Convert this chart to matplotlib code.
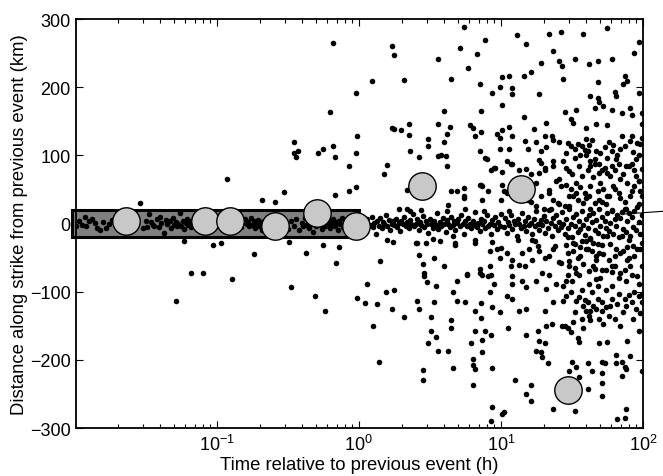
import numpy as np
import matplotlib
matplotlib.use('Agg')
from matplotlib import pyplot as plt
from matplotlib.patches import Rectangle

plt.rcParams['font.family'] = ['Liberation Sans', 'DejaVu Sans']
plt.rcParams['mathtext.default'] = 'regular'

#----------------- values (log10 of hours, km) -----------------#

# events inside the shaded band, t < 1 h
band_early = [(-1.99,-4),(-1.97,3),(-1.95,-2),(-1.93,9),(-1.92,-3),(-1.90,4),(-1.88,6),(-1.86,1),
    (-1.84,-6),(-1.82,-10),(-1.80,2),(-1.78,-7),(-1.76,0),(-1.74,5),(-1.71,-3),(-1.68,4),
    (-1.52,-7),(-1.50,3),(-1.49,-5),(-1.48,14),(-1.46,2),(-1.45,-2),(-1.44,-4),(-1.42,6),
    (-1.41,-5),(-1.40,10),(-1.39,1),(-1.37,-14),(-1.36,5),(-1.35,-1),(-1.33,3),(-1.32,-6),
    (-1.31,8),(-1.30,-2),(-1.29,2),(-1.28,-4),(-1.27,0),(-1.26,15),(-1.25,-3),(-1.24,4),
    (-1.23,-8),(-1.22,1),(-1.21,6),(-1.20,-2),(-1.19,3),(-1.18,-5),(-1.17,0),(-1.16,7),
    (-1.15,-3),(-1.13,2),(-1.11,-1),(-1.10,4),(-1.08,-6),(-0.98,-3),(-0.97,4),(-0.86,-2),
    (-0.84,3),(-0.83,-5),(-0.82,1),(-0.80,6),(-0.79,-1),(-0.78,2),(-0.77,-4),(-0.76,8),
    (-0.75,-2),(-0.74,3),(-0.73,-7),(-0.72,0),(-0.71,5),(-0.70,-3),(-0.69,2),(-0.68,-9),
    (-0.67,4),(-0.66,-1),(-0.50,-8),(-0.48,3),(-0.46,-3),(-0.44,6),(-0.42,-10),(-0.40,1),
    (-0.39,-4),(-0.38,8),(-0.37,-2),(-0.36,3),(-0.35,-6),(-0.34,0),(-0.33,5),(-0.32,-12),
    (-0.31,2),(-0.30,-3),(-0.29,7),(-0.28,-1),(-0.27,4),(-0.26,-8),(-0.25,1),(-0.24,-4),
    (-0.23,10),(-0.22,-2),(-0.21,3),(-0.20,-6),(-0.19,0),(-0.18,6),(-0.17,-3),(-0.16,2),
    (-0.15,-10),(-0.14,4),(-0.13,-1),(-0.12,8),(-0.11,-5),(-0.10,1),(-0.09,-2),(-0.08,5),
    (-0.07,-7),(-0.06,2),(-0.05,-3),(-0.04,10),(-0.03,-1),(-0.02,4),(-0.01,-6)]

# scattered events, t < 1 h
off_early = [(-1.54,30),(-1.23,-26),(-1.18,-72),(-1.10,-72),(-1.29,-114),(-1.03,-31),(-0.97,-28),
    (-0.93,65),(-0.89,-82),(-0.74,-45),(-0.68,35),(-0.59,32),(-0.53,46),(-0.48,-93),(-0.49,-27),
    (-0.37,-43),(-0.31,-106),(-0.25,-31),(-0.24,-129),(-0.17,42),(-0.16,-58),(-0.14,-34),
    (-0.07,84),(-0.07,47),(-0.02,53),(-0.01,-109)]

# events near zero distance, 1-10 h
band_mid = [(0.02,-8),(0.04,3),(0.05,-12),(0.06,6),(0.08,-2),(0.09,10),(0.10,-5),(0.11,1),
    (0.12,-15),(0.13,4),(0.14,-3),(0.15,8),(0.16,-6),(0.17,2),(0.18,-1),(0.19,12),(0.20,-4),
    (0.21,5),(0.22,-9),(0.23,0),(0.24,3),(0.25,-2),(0.26,7),(0.27,-5),(0.28,1),(0.29,-11),
    (0.30,4),(0.31,-1),(0.32,9),(0.33,-3),(0.34,2),(0.35,-7),(0.36,5),(0.37,-1),(0.38,14),
    (0.39,-4),(0.40,0),(0.41,6),(0.42,-9),(0.43,2),(0.44,-2),(0.45,11),(0.46,-5),(0.47,3),
    (0.48,-1),(0.49,-14),(0.50,6),(0.51,0),(0.52,-6),(0.53,4),(0.54,-2),(0.55,16),(0.56,-8),
    (0.57,2),(0.58,-3),(0.59,8),(0.60,-1),(0.61,-12),(0.62,5),(0.63,0),(0.64,-5),(0.65,10),
    (0.66,-2),(0.67,3),(0.68,-9),(0.69,1),(0.70,6),(0.71,-4),(0.72,13),(0.73,-1),(0.74,-16),
    (0.75,4),(0.76,-3),(0.77,8),(0.78,0),(0.79,-7),(0.80,3),(0.81,-2),(0.82,17),(0.83,-5),
    (0.84,1),(0.85,-11),(0.86,6),(0.87,-1),(0.88,3),(0.89,-6),(0.90,12),(0.91,-3),(0.92,0),
    (0.93,-15),(0.94,5),(0.95,-2),(0.96,9),(0.97,-8),(0.98,2),(0.99,-4),(1.00,14),
    (0.20,-24),(0.24,-27),(0.28,21),(0.36,18),(0.40,-28),(0.44,20),(0.52,-22),(0.57,-26),
    (0.62,18),(0.68,-28),(0.75,22),(0.82,-24),(0.88,19),(0.94,-27)]

# scattered events, 1-10 h
scatter_mid = [(0.04,-116),(0.06,-88),(0.10,-150),(0.13,-118),(0.14,-203),(0.15,-55),(0.18,73),
    (0.19,-101),(0.20,86),(0.23,-125),(0.25,-97),(0.32,-137),(0.34,49),(0.34,21),(0.42,97),
    (0.41,-28),(0.41,-113),(0.42,-126),(0.42,-46),(0.45,-59),(0.45,-215),(0.45,-229),(0.46,-73),
    (0.46,-77),(0.47,-28),(0.48,-86),(0.51,-137),(0.49,-175),(0.51,-157),(0.53,-50),(0.54,-166),
    (0.53,-115),(0.54,-92),(0.56,99),(0.61,99),(0.62,84),(0.65,47),(0.69,48),(0.74,52),(0.74,38),
    (0.76,-75),(0.82,-28),(0.85,57),(0.85,-73),(0.87,55),(0.90,95),(0.91,48),(0.91,-77),(0.92,-63),
    (0.93,78),(0.93,-75),(0.96,82),(1.00,-36),(1.00,35)]

# events near zero distance, 10-100 h
band_late = [(1.02,-5),(1.03,8),(1.04,-14),(1.05,2),(1.06,-2),(1.07,12),(1.08,-8),(1.09,4),
    (1.10,-1),(1.11,-18),(1.12,6),(1.13,0),(1.14,-6),(1.15,15),(1.16,-3),(1.17,3),(1.18,-11),
    (1.19,9),(1.20,-2),(1.21,1),(1.22,-16),(1.23,7),(1.24,-4),(1.25,18),(1.26,0),(1.27,-9),
    (1.28,5),(1.29,-2),(1.30,11),(1.31,-14),(1.32,3),(1.33,-6),(1.34,20),(1.35,1),(1.36,-19),
    (1.37,8),(1.38,-3),(1.39,13),(1.40,-10),(1.41,2),(1.42,-5),(1.43,17),(1.44,-1),(1.45,-15),
    (1.46,6),(1.47,-7),(1.48,22),(1.49,0),(1.50,-20),(1.51,9),(1.52,-4),(1.53,14),(1.54,-12),
    (1.55,3),(1.56,-8),(1.57,19),(1.58,-2),(1.59,-17),(1.60,7),(1.61,-6),(1.62,12),(1.63,-21),
    (1.64,2),(1.65,16),(1.66,-9),(1.67,5),(1.68,-14),(1.69,21),(1.70,-3),(1.71,10),(1.72,-18),
    (1.73,4),(1.74,-7),(1.75,15),(1.76,-11),(1.77,1),(1.78,20),(1.79,-16),(1.80,6),(1.81,-4),
    (1.82,13),(1.83,-20),(1.84,8),(1.85,17),(1.86,-8),(1.87,22),(1.88,-13),(1.89,3),(1.90,15),
    (1.91,-19),(1.92,10),(1.93,-5),(1.94,18),(1.95,-10),(1.96,24),(1.97,2),(1.98,-15),(1.99,12)]

# events far above the fault origin (> ~95 km)
upper = [(-0.46,120),(-0.46,104),(-0.43,106),(-0.44,97),(-0.29,104),(-0.25,109),(-0.20,163),
    (-0.18,265),(-0.18,113),(-0.17,97),(-0.02,191),(-0.02,103),(-0.01,129),(0.09,209),(0.23,260),
    (0.25,247),(0.23,140),(0.25,138),(0.30,137),(0.32,210),(0.35,146),(0.35,130),(0.36,107),
    (0.49,124),(0.49,113),(0.56,241),(0.56,146),(0.60,165),(0.62,132),(0.60,120),
    (0.74,288),(0.71,257),(0.89,269),(0.83,249),(0.77,228),(1.11,276),(1.18,263),(1.34,278),
    (1.42,281),(1.58,278),(1.75,287),(1.97,266),(1.94,250),(1.78,241),(1.68,238),(1.62,234),
    (1.52,241),(1.43,231),(1.41,238),(1.37,253),(1.28,235),(1.21,222),(1.16,216),(1.06,216),
    (1.01,215),(0.65,212),(0.85,204),(0.99,201),(1.08,199),(1.08,190),(0.94,192),(1.27,190),
    (1.44,212),(1.68,207),(1.86,204),(1.87,217),(1.89,209),(1.80,193),(1.81,187),(1.97,192),
    (1.63,187),(1.01,174),(1.68,184),(1.69,179),(1.72,173),(1.66,170),(1.78,166),(1.85,162),
    (1.91,169),(1.92,159),(1.99,162),(0.86,165),(1.16,157),(1.45,163),(1.49,154),(1.51,147),
    (1.32,147),(1.53,166),(1.99,146),(1.75,144),(1.67,146),(1.60,140),(1.23,138),(1.06,141),
    (1.01,137),(0.80,140),(0.78,144),(0.64,141),(0.86,135),(0.82,128),(0.97,131),(0.99,125),
    (1.08,128),(1.06,109),(1.17,121),(1.19,110),(1.25,119),(1.28,106),(1.31,128),(1.36,129),
    (1.37,122),(1.41,119),(1.32,112),(1.46,104),(1.54,116),(1.57,113),(1.60,124),(1.64,122),
    (1.67,107),(1.70,104),(1.78,107),(1.79,115),(1.84,110),(1.85,128),(1.91,121),(1.92,129),
    (1.96,118),(1.98,116),(1.99,126),(1.97,100),(1.61,106),(1.49,113),(0.85,106),(0.99,109),
    (0.58,100)]

# 10-100 h, between -95 and +95 km
middle_late = [(0.89,96),(0.95,81),(1.01,76),(1.07,88),(1.18,80),(1.27,93),(1.27,74),(1.31,81),
    (1.37,91),(1.39,62),(1.44,91),(1.52,96),(1.55,84),(1.60,100),(1.63,91),(1.69,88),(1.71,78),
    (1.75,96),(1.78,85),(1.83,88),(1.88,85),(1.92,88),(1.97,63),
    (0.63,27),(0.74,41),(0.86,56),(0.87,34),(1.02,47),(1.06,18),(1.21,32),(1.30,22),(1.34,49),
    (1.37,34),(1.41,29),(1.46,56),(1.48,25),(1.51,41),(1.56,54),(1.60,37),(1.63,22),(1.68,47),
    (1.71,32),(1.76,41),(1.78,19),(1.84,37),(1.88,22),(1.92,47),(1.97,29),
    (0.66,-19),(0.68,-32),(0.60,-63),(0.85,-66),(0.92,-40),(0.97,-37),(0.99,-51),(1.08,-54),
    (1.13,-61),(1.20,-37),(1.24,-25),(1.27,-41),(1.31,-51),(1.37,-37),(1.41,-56),(1.46,-32),
    (1.51,-41),(1.54,-51),(1.57,-26),(1.61,-37),(1.63,-22),(1.67,-47),(1.71,-32),(1.76,-54),
    (1.81,-37),(1.85,-19),(1.90,-51),(1.96,-37),(1.99,-62),(1.55,-76),(1.67,-81),(1.78,-71),
    (1.88,-84),(1.46,-84),(1.34,-76),(1.15,-84),(0.87,-76),(0.76,-74),
    (1.28,89),(1.37,84),(1.31,79),(1.21,72),(1.13,79),(1.25,60),(1.28,40),(1.34,45),(1.41,65),
    (1.42,55),(1.46,82),(1.48,77),(1.63,84),(1.66,87),(1.69,74),(1.75,74),(1.81,94),(1.90,84),
    (1.94,79),(1.97,62),(1.98,48),(1.84,65),(1.80,50),(1.75,40),(1.69,35),(1.63,55),(1.59,45),
    (1.54,35),(1.48,40),(1.45,25),(1.40,30),(1.35,21),(1.25,25),(1.19,35),(1.04,45),(1.01,57),
    (1.04,92),(1.08,87),
    (1.04,-43),(1.07,-63),(1.08,-77),(1.65,-63),(1.78,-63),(1.89,-53),(1.98,-38),(1.93,-33),
    (1.90,-24),(1.84,-43),(1.75,-19),(1.69,-43),(1.65,-28),(1.60,-38),(1.56,-48),(1.51,-28),
    (1.47,-43),(1.42,-58),(1.38,-33),(1.34,-48),(1.29,-72),(1.26,-33),(1.22,-53),(1.17,-63),
    (1.15,-43),(1.12,-24),(1.22,-24),(1.48,-63),(1.53,-72),(1.67,-53),(1.71,-68),(1.84,-72),
    (1.91,-63),(1.96,-77),(1.47,-75)]

# the darkest cloud, 30-100 h
dense_late = [(1.47,118),(1.52,110),(1.56,100),(1.59,108),(1.62,115),(1.66,95),(1.73,112),
    (1.76,120),(1.82,100),(1.87,113),(1.93,105),(1.95,95),
    (1.50,72),(1.53,60),(1.57,70),(1.61,78),(1.65,68),(1.70,60),(1.73,82),(1.77,70),(1.80,78),
    (1.86,72),(1.89,60),(1.95,70),(1.99,80),
    (1.49,50),(1.53,45),(1.58,30),(1.62,40),(1.66,30),(1.72,50),(1.74,28),(1.79,55),(1.83,45),
    (1.87,32),(1.91,40),(1.94,55),(1.99,40),
    (1.47,-20),(1.52,-30),(1.56,-35),(1.60,-25),(1.64,-40),(1.68,-30),(1.72,-45),(1.77,-30),
    (1.80,-48),(1.86,-40),(1.89,-35),(1.94,-48),(1.99,-28),
    (1.48,-55),(1.52,-65),(1.58,-60),(1.62,-70),(1.66,-66),(1.70,-80),(1.74,-68),(1.80,-62),
    (1.83,-80),(1.87,-68),(1.92,-75),(1.97,-88),
    (1.49,-100),(1.55,-108),(1.59,-112),(1.64,-100),(1.68,-110),(1.74,-122),(1.78,-110),
    (1.82,-118),(1.86,-130),(1.90,-105),(1.95,-125),(1.99,-115),
    (1.52,-130),(1.57,-140),(1.62,-135),(1.67,-125),(1.72,-148),(1.80,-140),(1.84,-150),
    (1.93,-140),(1.98,-132)]

# events far below (< ~-80 km), t > 3.6 h
lower = [(0.66,-101),(0.69,-113),(0.75,-115),(0.65,-142),(0.65,-154),(0.56,-187),(0.63,-187),
    (0.66,-212),(0.86,-116),(0.82,-129),(0.86,-138),(0.82,-157),(0.89,-157),(0.87,-171),
    (0.93,-164),(0.79,-176),(0.87,-189),(0.80,-199),(0.80,-207),(0.82,-213),(0.94,-212),
    (0.80,-237),(0.94,-269),(0.93,-290),(1.01,-279),(1.02,-277),(0.92,-100),(0.94,-122),
    (0.99,-130),(1.04,-106),(1.08,-110),(1.13,-128),(1.05,-154),(1.18,-164),(1.10,-229),
    (1.21,-237),(1.18,-250),(1.21,-261),(1.26,-157),(1.27,-172),(1.31,-176),(1.25,-187),
    (1.28,-188),(1.29,-196),(1.33,-204),(1.18,-125),(1.31,-128),(1.32,-150),(1.36,-147),
    (1.37,-115),(1.44,-113),(1.46,-106),(1.43,-151),(1.45,-150),(1.47,-154),(1.49,-159),
    (1.51,-144),(1.54,-168),(1.55,-174),(1.50,-203),(1.48,-216),(1.53,-210),(1.55,-225),
    (1.37,-272),(1.52,-275),(1.58,-121),(1.60,-128),(1.63,-128),(1.65,-121),(1.63,-142),
    (1.58,-154),(1.69,-176),(1.61,-204),(1.64,-216),(1.61,-243),(1.71,-203),(1.73,-204),
    (1.71,-220),(1.71,-234),(1.71,-253),(1.75,-174),(1.76,-135),(1.69,-140),(1.71,-129),
    (1.81,-193),(1.81,-204),(1.85,-203),(1.87,-210),(1.85,-223),(1.89,-172),(1.91,-194),
    (1.88,-213),(1.97,-157),(1.99,-216),(1.82,-287),(1.87,-285),(1.88,-272),
    (0.69,-85),(0.95,-88),(1.08,-88),(1.18,-93),(1.25,-85),(1.32,-96),(1.39,-88),(1.44,-91),
    (1.50,-85),(1.57,-98),(1.62,-88),(1.68,-91),(1.74,-98),(1.78,-91),(1.83,-103),(1.87,-110),
    (1.92,-115),(1.97,-107),(1.99,-103),(1.53,-113),(1.61,-115),(1.71,-115),(1.77,-121),
    (1.88,-121),(1.94,-100)]

# large events (big grey circles)
big_t_h = [0.023, 0.083, 0.123, 0.257, 0.51, 0.95, 2.79, 13.8, 29.6]
big_d_km = [3, 3, 3, -4, 16, -4, 55, 51, -244]

# shaded band and the pointer line at the right edge
band_t = [0.0095, 1.0]
band_d = [-20, 20]
pointer_t = [74, 140]
pointer_d = [14, 18]

#----------------- plotting -----------------#

groups = [band_early, off_early, band_mid, scatter_mid, band_late, upper, middle_late,
          dense_late, lower]
pts = np.array([p for g in groups for p in g], dtype=float)
t_h = 10 ** pts[:, 0]
d_km = pts[:, 1]

fig = plt.figure(figsize=(6.63, 4.77), dpi=100)
ax = fig.add_axes([0.1146, 0.1006, 0.8552, 0.8574])

ax.add_patch(Rectangle((band_t[0], band_d[0]), band_t[1] - band_t[0], band_d[1] - band_d[0],
                       facecolor='#808080', edgecolor='black', lw=2.2, zorder=2, clip_on=False))
ax.scatter(t_h, d_km, s=16, c='black', linewidths=0, zorder=3)
ax.scatter(big_t_h, big_d_km, s=390, c='#c8c8c8', edgecolors='black', linewidths=1, zorder=4)
ax.plot(pointer_t, pointer_d, color='black', lw=0.8, clip_on=False, zorder=5)

ax.set_xscale('log')
ax.set_xlim(0.0102, 100)
ax.set_ylim(-300, 300)
ax.set_yticks([-300, -200, -100, 0, 100, 200, 300])

ax.tick_params(which='both', direction='in', top=True, right=True, labelsize=13, pad=4)
ax.tick_params(which='major', length=5, width=0.8)
ax.tick_params(which='minor', length=3, width=0.8)
for s in ax.spines.values():
    s.set_linewidth(1.3)

ax.set_xlabel('Time relative to previous event (h)', fontsize=13.3, labelpad=2)
ax.set_ylabel('Distance along strike from previous event (km)', fontsize=13.3)
ax.yaxis.set_label_coords(-0.085, 0.5)

fig.savefig('out.png', dpi=100)
